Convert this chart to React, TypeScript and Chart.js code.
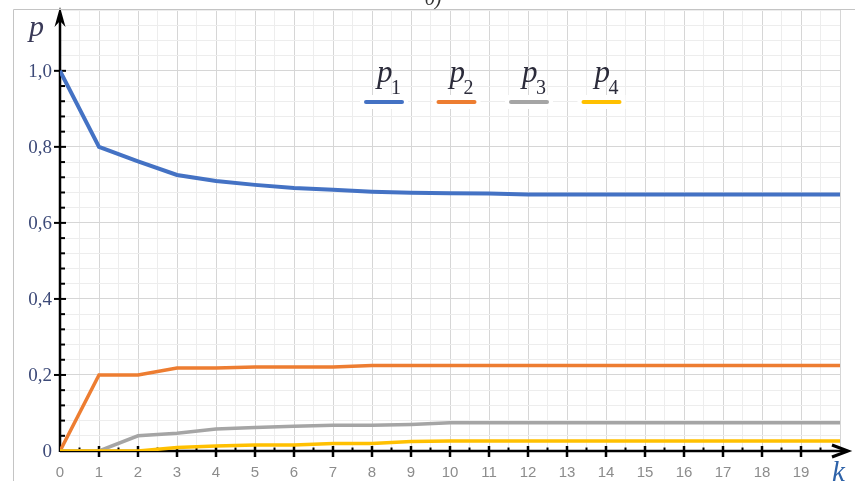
import React, { useEffect, useRef } from "react";
import { Chart, registerables } from "chart.js";

Chart.register(...registerables);

// Step number k and the state probabilities p1..p4
const K_VALUES = [0, 1, 2, 3, 4, 5, 6, 7, 8, 9, 10, 11, 12, 13, 14, 15, 16, 17, 18, 19, 20];
const P1 = [1.0, 0.8, 0.762, 0.726, 0.71, 0.7, 0.692, 0.687, 0.682, 0.679, 0.678, 0.677, 0.675, 0.675, 0.675, 0.675, 0.675, 0.675, 0.675, 0.675, 0.675];
const P2 = [0, 0.2, 0.2, 0.218, 0.218, 0.221, 0.221, 0.221, 0.225, 0.225, 0.225, 0.225, 0.225, 0.225, 0.225, 0.225, 0.225, 0.225, 0.225, 0.225, 0.225];
const P3 = [0, 0, 0.04, 0.047, 0.058, 0.062, 0.065, 0.068, 0.068, 0.07, 0.074, 0.074, 0.074, 0.074, 0.074, 0.074, 0.074, 0.074, 0.074, 0.074, 0.074];
const P4 = [0, 0, 0, 0.009, 0.013, 0.016, 0.016, 0.02, 0.02, 0.025, 0.026, 0.026, 0.026, 0.026, 0.026, 0.026, 0.026, 0.026, 0.026, 0.026, 0.026];

const SERIES_NAMES = ["p1", "p2", "p3", "p4"];
const SERIES_COLORS = ["#4472C4", "#ED7D31", "#A5A5A5", "#FFC000"];

const X_TICK_LABELS = ["0", "1", "2", "3", "4", "5", "6", "7", "8", "9", "10", "11", "12", "13", "14", "15", "16", "17", "18", "19"];
const Y_TICK_VALUES = [0, 0.2, 0.4, 0.6, 0.8, 1.0];
const Y_TICK_LABELS = ["0", "0,2", "0,4", "0,6", "0,8", "1,0"];

const X_AXIS_TITLE = "k";
const Y_AXIS_TITLE = "p";
const CAPTION = "б)";

const SERIF = '"Liberation Serif", "DejaVu Serif", serif';
const SANS = '"Liberation Sans", "DejaVu Sans", sans-serif';

const isMajorY = (v: number) => Math.abs(v * 5 - Math.round(v * 5)) < 1e-6;
const isMajorX = (v: number) => Math.abs(v - Math.round(v)) < 1e-6;

const arrowAxes = {
  id: "arrowAxes",
  beforeDatasetsDraw(chart: any) {
    const { ctx, chartArea, scales } = chart;
    const xs = scales.x;
    const ys = scales.y;
    const x0 = xs.getPixelForValue(0);
    const y0 = ys.getPixelForValue(0);
    ctx.save();
    ctx.strokeStyle = "#000";
    ctx.fillStyle = "#000";

    // axis lines
    ctx.lineWidth = 2.5;
    ctx.beginPath();
    ctx.moveTo(x0, chartArea.bottom + 1);
    ctx.lineTo(x0, 14);
    ctx.moveTo(x0, y0);
    ctx.lineTo(chart.width - 10, y0);
    ctx.stroke();

    // arrow heads
    ctx.beginPath();
    ctx.moveTo(x0, 7);
    ctx.lineTo(x0 - 5.5, 27);
    ctx.lineTo(x0, 21);
    ctx.lineTo(x0 + 5.5, 27);
    ctx.closePath();
    ctx.fill();
    const tipX = chart.width - 7;
    ctx.lineWidth = 3;
    ctx.beginPath();
    ctx.moveTo(tipX - 16, y0 - 6);
    ctx.lineTo(tipX, y0);
    ctx.lineTo(tipX - 16, y0 + 6);
    ctx.stroke();

    // x ticks: integers cross the axis, halves sit above it
    for (let v = 0.5; v < 20; v += 0.5) {
      const px = xs.getPixelForValue(v);
      ctx.lineWidth = isMajorX(v) ? 2.5 : 2;
      ctx.beginPath();
      if (isMajorX(v)) {
        ctx.moveTo(px, y0 - 5);
        ctx.lineTo(px, y0 + 6);
      } else {
        ctx.moveTo(px, y0 - 3.5);
        ctx.lineTo(px, y0);
      }
      ctx.stroke();
    }

    // y ticks every 0.04, majors every 0.2
    for (let i = 1; i <= 25; i++) {
      const v = i * 0.04;
      const py = ys.getPixelForValue(v);
      ctx.lineWidth = 2;
      ctx.beginPath();
      if (isMajorY(v)) {
        ctx.moveTo(x0 - 6, py);
        ctx.lineTo(x0 + 6, py);
      } else {
        ctx.moveTo(x0, py);
        ctx.lineTo(x0 + 5, py);
      }
      ctx.stroke();
    }
    ctx.restore();
  },
  afterDraw(chart: any) {
    const { ctx, scales } = chart;
    const xs = scales.x;
    const ys = scales.y;
    const x0 = xs.getPixelForValue(0);
    ctx.save();

    // outer frame
    ctx.strokeStyle = "#c4c4c4";
    ctx.lineWidth = 1;
    ctx.beginPath();
    ctx.moveTo(13.5, chart.height);
    ctx.lineTo(13.5, 9.5);
    ctx.lineTo(chart.width, 9.5);
    ctx.stroke();

    // caption above the frame
    ctx.fillStyle = "#333";
    ctx.font = `italic 20px ${SERIF}`;
    ctx.textAlign = "center";
    ctx.textBaseline = "alphabetic";
    ctx.fillText(CAPTION, 433, 5);

    // y tick labels
    ctx.fillStyle = "#3d4a78";
    ctx.font = `19px ${SERIF}`;
    ctx.textAlign = "right";
    ctx.textBaseline = "middle";
    Y_TICK_VALUES.forEach((v, i) => {
      ctx.fillText(Y_TICK_LABELS[i], x0 - 8, ys.getPixelForValue(v) + 1);
    });

    // x tick labels
    ctx.fillStyle = "#8c8c8c";
    ctx.font = `15px ${SANS}`;
    ctx.textAlign = "center";
    ctx.textBaseline = "middle";
    X_TICK_LABELS.forEach((t) => {
      ctx.fillText(t, xs.getPixelForValue(Number(t)), 473);
    });

    // axis titles
    ctx.textAlign = "left";
    ctx.textBaseline = "alphabetic";
    ctx.fillStyle = "#3a3a58";
    ctx.font = `italic 30px ${SERIF}`;
    ctx.fillText(Y_AXIS_TITLE, 29, 36);
    ctx.fillStyle = "#2e62a8";
    ctx.font = `italic 29px ${SERIF}`;
    ctx.fillText(X_AXIS_TITLE, 832, 481);

    // legend: name with subscript index over a coloured stroke
    chart.data.datasets.forEach((ds: any, i: number) => {
      const cx = 384 + i * 72.5;
      ctx.fillStyle = "#fff";
      ctx.fillRect(cx - 24, 95, 48, 14);
      ctx.strokeStyle = ds.borderColor;
      ctx.lineWidth = 4;
      ctx.lineCap = "round";
      ctx.beginPath();
      ctx.moveTo(cx - 18, 102);
      ctx.lineTo(cx + 18, 102);
      ctx.stroke();
      const name = String(ds.label);
      ctx.fillStyle = "#2b2b3a";
      ctx.font = `italic 31px ${SERIF}`;
      ctx.fillText(name.charAt(0), cx - 7, 82);
      ctx.font = `20px ${SERIF}`;
      ctx.fillText(name.slice(1), cx + 7, 94);
    });
    ctx.restore();
  },
};

export default function App() {
  const canvasRef = useRef<HTMLCanvasElement | null>(null);

  useEffect(() => {
    const canvas = canvasRef.current;
    if (!canvas) return;
    const series = [P1, P2, P3, P4];
    const chart = new Chart(canvas, {
      type: "line",
      data: {
        datasets: series.map((vals, i) => ({
          label: SERIES_NAMES[i],
          data: K_VALUES.map((k, j) => ({ x: k, y: vals[j] })),
          borderColor: SERIES_COLORS[i],
          backgroundColor: SERIES_COLORS[i],
          borderWidth: i === 0 ? 4 : 3.5,
          pointRadius: 0,
          tension: 0,
          fill: false,
          order: 3 - i,
        })),
      },
      options: {
        animation: false,
        responsive: false,
        events: [],
        layout: { padding: { left: 60, right: 15, top: 10, bottom: 30 } },
        plugins: {
          legend: { display: false },
          tooltip: { enabled: false },
        },
        scales: {
          x: {
            type: "linear",
            min: 0,
            max: 20,
            ticks: { display: false, stepSize: 0.5 },
            grid: {
              drawTicks: false,
              lineWidth: 1,
              color: (c: any) => (isMajorX(c.tick.value) ? "#d6d6d6" : "#ededed"),
            },
            border: { display: false },
          },
          y: {
            type: "linear",
            min: 0,
            max: 1.16,
            ticks: { display: false, stepSize: 0.04 },
            grid: {
              drawTicks: false,
              lineWidth: 1,
              color: (c: any) => (isMajorY(c.tick.value) ? "#d6d6d6" : "#ededed"),
            },
            border: { display: false },
          },
        },
      },
      plugins: [arrowAxes],
    });
    return () => chart.destroy();
  }, []);

  return (
    <div style={{ position: "fixed", left: 0, top: 0, width: 855, height: 481, background: "#fff" }}>
      <canvas ref={canvasRef} width={855} height={481} />
    </div>
  );
}
